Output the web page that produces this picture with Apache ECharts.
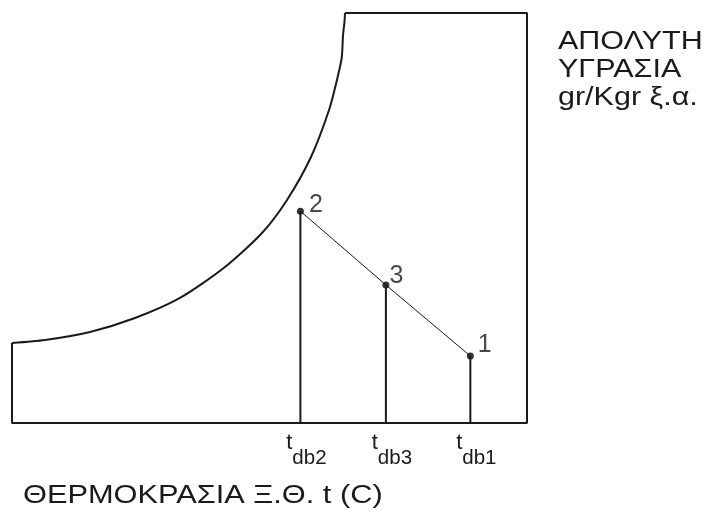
<!DOCTYPE html>
<html>
<head>
<meta charset="utf-8">
<script src="https://cdn.jsdelivr.net/npm/echarts@6/dist/echarts.min.js"></script>
<style>
html,body{margin:0;padding:0;background:#fff;}
#chart{width:706px;height:515px;}
</style>
</head>
<body>
<div id="chart"></div>
<script>
// Axis ranges (arbitrary units: temperature on x, absolute humidity on y)
const xMin = 0, xMax = 50, yMin = 0, yMax = 30;

// Saturation curve
const satX = [0, 3.20, 7.57, 11.94, 16.31, 20.68, 24.27, 26.70, 29.03, 30.78, 31.55, 32.01, 32.14, 32.28, 32.33];
const satY = [5.85, 6.07, 6.66, 7.68, 9.15, 11.41, 13.90, 16.32, 19.46, 22.90, 25.10, 26.71, 28.39, 29.34, 30.00];

// Chart outline (rest of the box)
const boxX = [32.33, 50, 50, 0, 0];
const boxY = [30, 30, 0, 0, 5.85];

// State points
const pointNames = ['2', '3', '1'];
const pointX = [28, 36.3, 44.5];
const pointY = [15.5, 10.1, 4.9];

// Tick labels under the points (subscripts of t)
const tickSubs = ['db2', 'db3', 'db1'];

const yTitleLines = ['ΑΠΟΛΥΤΗ', 'ΥΓΡΑΣΙΑ', 'gr/Kgr ξ.α.'];
const xTitle = 'ΘΕΡΜΟΚΡΑΣΙΑ Ξ.Θ. t (C)';

const ink = '#1a1a1a';
const fam = '"Liberation Sans", Arial, sans-serif';
const zip = (xs, ys) => xs.map((x, i) => [x, ys[i]]);

const labelOffsets = [[0, -6], [-5, -9], [-1, -11]];

const series = [
  {
    type: 'line', data: zip(satX, satY), smooth: 0.25,
    showSymbol: false, clip: false, silent: true,
    lineStyle: { color: ink, width: 2 }
  },
  {
    type: 'line', data: zip(boxX, boxY), showSymbol: false, clip: false, silent: true,
    lineStyle: { color: ink, width: 2 }
  },
  {
    type: 'line', data: zip(pointX, pointY), showSymbol: false, clip: false, silent: true,
    lineStyle: { color: ink, width: 1 }
  }
];
pointX.forEach((x, i) => {
  series.push({
    type: 'line', data: [[x, yMin], [x, pointY[i]]], showSymbol: false, clip: false, silent: true,
    lineStyle: { color: ink, width: 2 }
  });
});
series.push({
  type: 'scatter', symbolSize: 7, clip: false, silent: true,
  itemStyle: { color: '#000' },
  data: pointX.map((x, i) => ({
    value: [x, pointY[i]],
    label: {
      show: true, position: 'right', distance: 5, offset: labelOffsets[i],
      formatter: pointNames[i], color: ink,
      fontFamily: fam, fontSize: 25
    }
  }))
});

const chart = echarts.init(document.getElementById('chart'), null, { renderer: 'canvas' });
chart.setOption({
  backgroundColor: '#fff',
  animation: false,
  grid: { left: 12, right: 179, top: 13, bottom: 92, containLabel: false },
  xAxis: {
    type: 'value', min: xMin, max: xMax,
    axisLine: { show: false }, axisTick: { show: false }, splitLine: { show: false },
    axisLabel: {
      show: true, customValues: pointX, margin: 9, align: 'center',
      formatter: function (v) {
        let k = 0, best = Infinity;
        pointX.forEach((p, i) => { if (Math.abs(p - v) < best) { best = Math.abs(p - v); k = i; } });
        return '{t|t}{s|' + tickSubs[k] + '}';
      },
      rich: {
        t: { fontFamily: fam, fontSize: 22, color: ink, padding: [0, 0, 15, 12] },
        s: { fontFamily: fam, fontSize: 20.5, color: ink, padding: [15, 0, 0, 0] }
      }
    }
  },
  yAxis: {
    type: 'value', min: yMin, max: yMax,
    axisLine: { show: false }, axisTick: { show: false }, splitLine: { show: false },
    axisLabel: { show: false }
  },
  graphic: [
    {
      type: 'group', x: 558, y: 28, scaleX: 1.22, silent: true,
      children: [{
        type: 'text', x: 0, y: 0,
        style: {
          text: yTitleLines.join('\n'), fill: ink,
          font: '25px ' + fam, lineHeight: 28,
          verticalAlign: 'top', align: 'left'
        }
      }]
    },
    {
      type: 'group', x: 23, y: 484, scaleX: 1.23, silent: true,
      children: [{
        type: 'text', x: 0, y: 0,
        style: {
          text: xTitle, fill: ink,
          font: '25px ' + fam,
          verticalAlign: 'top', align: 'left'
        }
      }]
    }
  ],
  series: series
});
</script>
</body>
</html>
